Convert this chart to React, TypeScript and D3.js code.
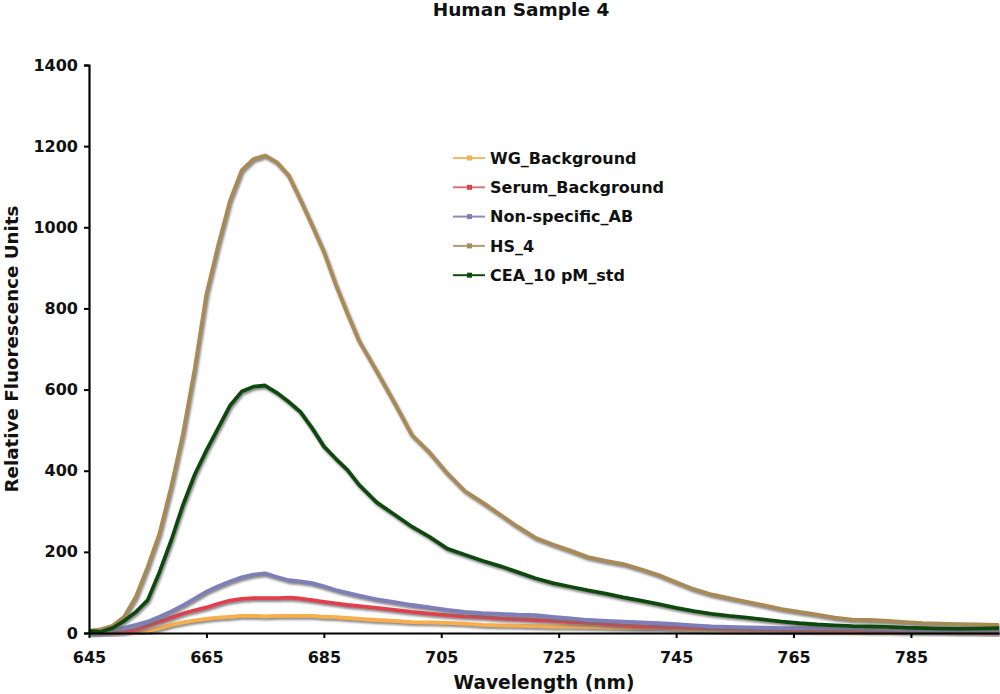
import React, { useEffect, useRef } from 'react';
import * as d3 from 'd3';

// wavelength grid (nm) shared by all series
const wavelengths = [
  645, 647, 649, 651, 653, 655, 657, 659, 661, 663, 665, 667, 669, 671, 673, 675, 677, 679, 681, 683,
  685, 687, 689, 691, 694, 697, 700, 703, 706, 709, 712, 715, 718, 721, 724, 727, 730, 733, 736, 739,
  742, 745, 748, 751, 754, 757, 760, 763, 766, 769, 772, 775, 778, 781, 784, 787, 790, 793, 796, 800,
];

const wgBackground = [
  0, 0, 0, 0, 0, 5, 12, 20, 26, 31, 35, 38, 40, 42, 42, 41, 42, 43, 42, 42,
  40, 39, 37, 35, 32, 30, 27, 26, 25, 23, 20, 19, 18, 17, 16, 16, 15, 14, 13, 12,
  12, 10, 8, 6, 5, 4, 3, 2, 2, 1, 1, 1, 0, 0, 0, 0, 0, 0, 0, 0,
];

const serumBackground = [
  0, 0, 0, 2, 8, 18, 28, 38, 48, 56, 63, 72, 80, 84, 86, 86, 86, 87, 85, 81,
  77, 73, 69, 66, 62, 57, 52, 48, 44, 41, 39, 36, 34, 32, 30, 27, 25, 22, 19, 16,
  15, 14, 13, 12, 11, 10, 9, 8, 7, 6, 6, 5, 4, 4, 3, 3, 2, 1, 1, 0,
];

const nonSpecificAB = [
  0, 3, 8, 13, 20, 28, 40, 53, 68, 85, 102, 115, 127, 137, 144, 147, 138, 130, 127, 123,
  115, 106, 99, 92, 83, 76, 69, 63, 57, 52, 49, 47, 45, 44, 40, 36, 32, 30, 28, 26,
  24, 22, 19, 16, 15, 14, 13, 12, 12, 12, 12, 12, 11, 10, 8, 7, 7, 7, 7, 7,
];

const hs4 = [
  5, 9, 18, 40, 90, 163, 245, 360, 490, 650, 835, 955, 1065, 1140, 1168, 1177, 1160, 1128, 1068, 1005,
  940, 860, 788, 720, 645, 568, 488, 445, 394, 350, 322, 292, 262, 235, 218, 203, 187, 178, 170, 157,
  143, 125, 108, 95, 86, 77, 68, 59, 52, 45, 38, 33, 32, 30, 27, 24, 23, 22, 21, 20,
];

const cea10pM = [
  5, 3, 12, 30, 52, 81, 150, 228, 315, 390, 450, 505, 560, 595, 607, 610, 592, 570, 545, 505,
  460, 430, 402, 365, 322, 292, 262, 237, 208, 193, 178, 165, 150, 135, 123, 114, 105, 97, 88, 80,
  71, 62, 54, 47, 42, 38, 33, 28, 24, 21, 19, 17, 16, 15, 13, 12, 11, 10, 11, 12,
];

const seriesNames = ['WG_Background', 'Serum_Background', 'Non-specific_AB', 'HS_4', 'CEA_10 pM_std'];
const seriesValues = [wgBackground, serumBackground, nonSpecificAB, hs4, cea10pM];
const lineColors = ['#F7AE4C', '#E0404E', '#7E7EB8', '#A88A56', '#0D4A0D'];
const legendColors = ['#F8BA68', '#D8747C', '#8C8CC2', '#B29C72', '#0D4A0D'];

const xTicks = [645, 665, 685, 705, 725, 745, 765, 785];
const yTicks = [0, 200, 400, 600, 800, 1000, 1200, 1400];

const App: React.FC = () => {
  const svgRef = useRef<SVGSVGElement>(null);

  useEffect(() => {
    const width = 1000;
    const height = 694;
    const margin = { top: 65, right: 1, bottom: 61, left: 89 };
    const font = '"DejaVu Sans", Verdana, sans-serif';

    const svg = d3.select(svgRef.current)
      .attr('width', width)
      .attr('height', height)
      .style('background', '#fff');
    svg.selectAll('*').remove();

    const x = d3.scaleLinear().domain([645, 800]).range([margin.left, width - margin.right]);
    const y = d3.scaleLinear().domain([0, 1400]).range([height - margin.bottom, margin.top]);

    // soft grey shadow under every line
    const defs = svg.append('defs');
    const shadow = defs.append('filter')
      .attr('id', 'line-shadow')
      .attr('x', '-5%').attr('y', '-5%')
      .attr('width', '110%').attr('height', '115%');
    shadow.append('feDropShadow')
      .attr('dx', 1.2)
      .attr('dy', 2)
      .attr('stdDeviation', 1)
      .attr('flood-color', '#707070')
      .attr('flood-opacity', 0.85);

    // title
    svg.append('text')
      .attr('x', 521)
      .attr('y', 15.5)
      .attr('text-anchor', 'middle')
      .style('font-family', font)
      .style('font-weight', 'bold')
      .style('font-size', '18.5px')
      .attr('fill', '#111')
      .text('Human Sample 4');

    // lines
    const line = d3.line<number>()
      .x((_, i) => x(wavelengths[i]))
      .y(d => y(d));

    seriesValues.forEach((vals, i) => {
      svg.append('path')
        .datum(vals)
        .attr('d', line)
        .attr('fill', 'none')
        .attr('stroke', lineColors[i])
        .attr('stroke-width', 3.8)
        .attr('stroke-linejoin', 'round')
        .attr('filter', 'url(#line-shadow)');
    });

    // y axis
    const yAxis = svg.append('g')
      .attr('transform', `translate(${margin.left},0)`)
      .call(d3.axisLeft(y).tickValues(yTicks).tickSize(5).tickPadding(6).tickFormat(d3.format('d')));
    yAxis.select('.domain').attr('stroke', '#000').attr('stroke-width', 2.2);
    yAxis.selectAll('line').attr('stroke', '#000').attr('stroke-width', 2);
    yAxis.selectAll('text')
      .style('font-family', font)
      .style('font-weight', 'bold')
      .style('font-size', '16px')
      .attr('fill', '#111');

    // x axis
    const xAxis = svg.append('g')
      .attr('transform', `translate(0,${height - margin.bottom})`)
      .call(d3.axisBottom(x).tickValues(xTicks).tickSize(5).tickSizeOuter(0).tickPadding(14).tickFormat(d3.format('d')));
    xAxis.select('.domain').attr('stroke', '#000').attr('stroke-width', 2.2);
    xAxis.selectAll('line').attr('stroke', '#000').attr('stroke-width', 2);
    xAxis.selectAll('text')
      .style('font-family', font)
      .style('font-weight', 'bold')
      .style('font-size', '16px')
      .attr('fill', '#111');

    // axis titles
    svg.append('text')
      .attr('x', (margin.left + width - margin.right) / 2)
      .attr('y', 689)
      .attr('text-anchor', 'middle')
      .style('font-family', font)
      .style('font-weight', 'bold')
      .style('font-size', '18.6px')
      .attr('fill', '#111')
      .text('Wavelength (nm)');

    svg.append('text')
      .attr('transform', `translate(17.5,${(margin.top + height - margin.bottom) / 2}) rotate(-90)`)
      .attr('text-anchor', 'middle')
      .style('font-family', font)
      .style('font-weight', 'bold')
      .style('font-size', '18.3px')
      .attr('fill', '#111')
      .text('Relative Fluorescence Units');

    // legend
    const legend = svg.append('g').attr('transform', 'translate(453,158)');
    seriesNames.forEach((name, i) => {
      const row = legend.append('g').attr('transform', `translate(0,${i * 29.3})`);
      row.append('line')
        .attr('x1', 0).attr('x2', 32)
        .attr('y1', 0).attr('y2', 0)
        .attr('stroke', legendColors[i])
        .attr('stroke-width', 2);
      row.append('rect')
        .attr('x', 14).attr('y', -2.5)
        .attr('width', 5).attr('height', 5)
        .attr('fill', lineColors[i]);
      row.append('text')
        .attr('x', 37)
        .attr('y', 0)
        .attr('dy', '0.36em')
        .style('font-family', font)
        .style('font-weight', 'bold')
        .style('font-size', '16px')
        .attr('fill', '#111')
        .text(name);
    });
  }, []);

  return (
    <div style={{ position: 'absolute', left: 0, top: 0 }}>
      <svg ref={svgRef}></svg>
    </div>
  );
};

export default App;
